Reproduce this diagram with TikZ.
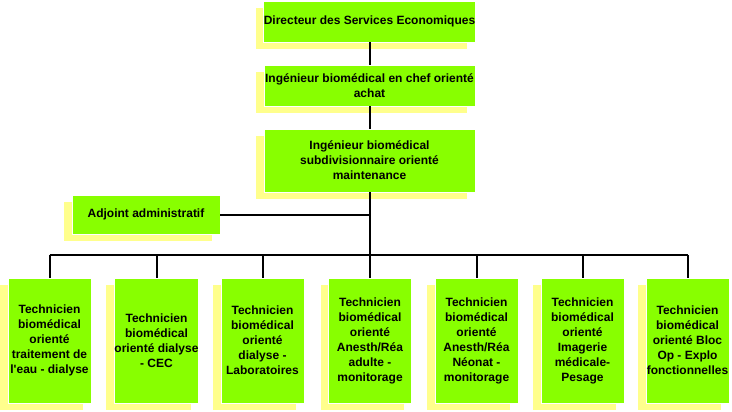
\documentclass[tikz,border=0pt]{standalone}
\usepackage{fontspec}
\setmainfont{Liberation Sans}
\newfontfamily\plainsans[Ligatures=ResetAll]{Liberation Sans}
\usetikzlibrary{shadows}
\definecolor{boxgreen}{RGB}{136,255,0}
\definecolor{shyellow}{RGB}{255,255,140}
\tikzset{
  orgbox/.style={fill=boxgreen, draw=white, line width=0.8pt, inner sep=0pt,
    align=center, font=\fontsize{12}{15}\selectfont\plainsans\bfseries,
    drop shadow={fill=shyellow, opacity=1, shadow xshift=-8pt, shadow yshift=-7pt}},
  topbox/.style={orgbox, minimum width=211pt},
  techbox/.style={orgbox, minimum width=83pt, minimum height=125pt},
  link/.style={draw=black, line width=2pt}
}
\begin{document}
\begin{tikzpicture}[x=1pt,y=-1pt]
\useasboundingbox (0,0) rectangle (732,412);
\node[topbox, minimum height=41pt] (dir) at (369.5,21.5) {Directeur des Services Economiques};
\node[topbox, minimum height=41pt] (chef) at (369.5,85.5) {Ingénieur biomédical en chef orienté\\achat};
\node[topbox, minimum height=63pt] (maint) at (369.5,160.5) {Ingénieur biomédical\\subdivisionnaire orienté\\maintenance};
\node[orgbox, minimum width=148pt, minimum height=39pt] (adj) at (146,214.5) {Adjoint administratif};
\node[techbox] (t1) at (49.5,340.5) {Technicien\\biomédical\\orienté\\traitement de\\l'eau - dialyse};
\node[techbox] (t2) at (156.5,340.5) {Technicien\\biomédical\\orienté dialyse\\- CEC};
\node[techbox] (t3) at (262.5,340.5) {Technicien\\biomédical\\orienté\\dialyse -\\Laboratoires};
\node[techbox] (t4) at (370,340.5) {Technicien\\biomédical\\orienté\\Anesth/Réa\\adulte -\\monitorage};
\node[techbox] (t5) at (476.5,340.5) {Technicien\\biomédical\\orienté\\Anesth/Réa\\Néonat -\\monitorage};
\node[techbox] (t6) at (582.5,340.5) {Technicien\\biomédical\\orienté\\Imagerie\\médicale-\\Pesage};
\node[techbox] (t7) at (687.5,340.5) {Technicien\\biomédical\\orienté Bloc\\Op - Explo\\fonctionnelles};
\coordinate (hub) at (369.5,255);
\draw[link] (dir) -- (chef);
\draw[link] (chef) -- (maint);
\draw[link] (maint.south) -- (hub);
\draw[link] (adj.east) -- (adj.east -| hub);
\draw[link] (t1.north |- hub) -- (t7.north |- hub);
\foreach \t in {t1,t2,t3,t4,t5,t6,t7} {
  \draw[link] (\t.north |- hub) -- (\t.north);
}
\end{tikzpicture}
\end{document}
